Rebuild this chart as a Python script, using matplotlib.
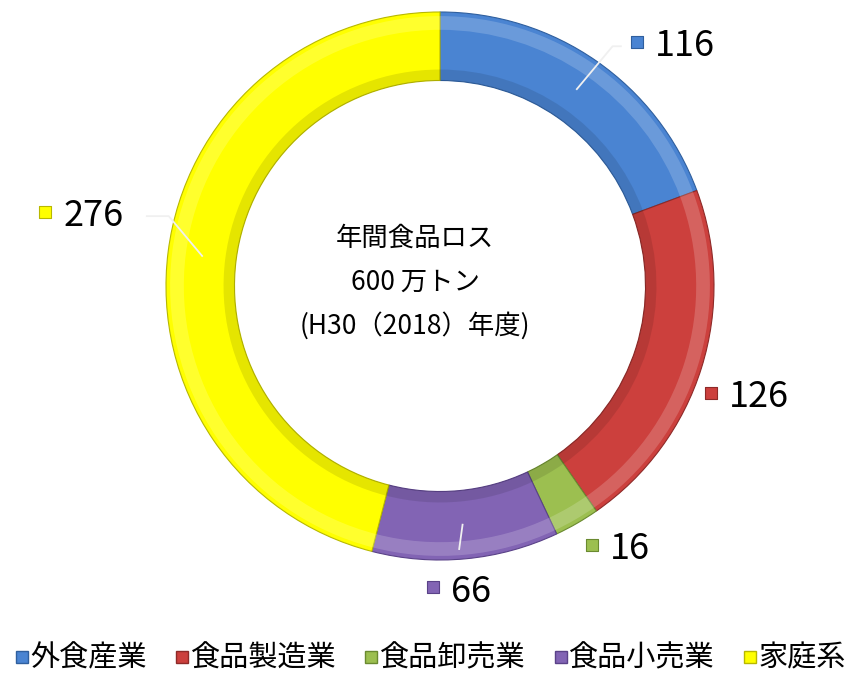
import numpy as np
import matplotlib.pyplot as plt
from matplotlib.patches import Wedge
from matplotlib.lines import Line2D

plt.rcParams['font.family'] = ['Noto Sans CJK JP', 'DejaVu Sans']

# data
categories = ['外食産業', '食品製造業', '食品卸売業', '食品小売業', '家庭系']
values = [116, 126, 16, 66, 276]
colors = ['#4a84d2', '#cc403d', '#9cbf50', '#8264b4', '#ffff00']
edges = ['#2f5f9e', '#8e2a28', '#6a8a30', '#5a4288', '#b8b800']
center_lines = ['年間食品ロス', '600 万トン', '(H30（2018）年度)']

# label placement (axes units, ring outer radius = 1)
label_pos = [(0.72, 0.89), (0.99, -0.39), (0.555, -0.945), (-0.026, -1.10), (-1.44, 0.27)]
# leader line elbow points (None = no visible leader)
leader_mid = [(0.63, 0.875), None, None, (0.07, -0.96), (-0.99, 0.255)]
leader_end = [(0.66, 0.875), None, None, (0.07, -0.96), (-1.07, 0.255)]

fig = plt.figure(figsize=(8.59, 6.77), dpi=100)
R = 274
ax = fig.add_axes([(440 - R) / 859, (677 - 286 - R) / 677, 2 * R / 859, 2 * R / 677])

width = 0.25
wedges, _ = ax.pie(values, colors=colors, startangle=90, counterclock=False,
                   radius=1, wedgeprops=dict(width=width, edgecolor='none'))
ax.set_xlim(-1, 1)
ax.set_ylim(-1, 1)
ax.set_aspect('equal')
ax.axis('off')

for w, ec in zip(wedges, edges):
    w.set_edgecolor(ec)
    w.set_linewidth(0.8)
    # soft highlight / shade for a bevel look
    ax.add_patch(Wedge((0, 0), 0.985, w.theta1, w.theta2, width=0.05,
                       facecolor='white', alpha=0.18, lw=0))
    ax.add_patch(Wedge((0, 0), 0.79, w.theta1, w.theta2, width=0.04,
                       facecolor='black', alpha=0.10, lw=0))

# data labels with leader lines
for w, v, c, ec, (lx, ly), lm, le in zip(wedges, values, colors, edges, label_pos,
                                          leader_mid, leader_end):
    if lm is not None:
        mid = np.deg2rad((w.theta1 + w.theta2) / 2)
        sx, sy = 0.875 * np.cos(mid), 0.875 * np.sin(mid)
        ax.plot([sx, lm[0], le[0]], [sy, lm[1], le[1]], color='#f0f0f0', lw=1.3,
                clip_on=False, zorder=3)
    ax.scatter([lx], [ly], marker='s', s=70, color=c, edgecolor=ec, lw=0.8,
               clip_on=False, zorder=4)
    ax.text(lx + 0.065, ly - 0.015, str(v), fontsize=26, ha='left', va='center',
            color='black', clip_on=False)

# center text
for i, t in enumerate(center_lines):
    ax.text(-0.09, 0.175 - 0.16 * i, t, fontsize=19, ha='center', va='center')

handles = [Line2D([], [], marker='s', linestyle='none', markersize=8,
                  markerfacecolor=c, markeredgecolor=ec) for c, ec in zip(colors, edges)]
fig.legend(handles, categories, loc='center', bbox_to_anchor=(0.5, 0.027), ncol=5,
           frameon=False, fontsize=21, handletextpad=0.0, columnspacing=0.9,
           handlelength=0.6)

fig.savefig('out.png', dpi=100)
